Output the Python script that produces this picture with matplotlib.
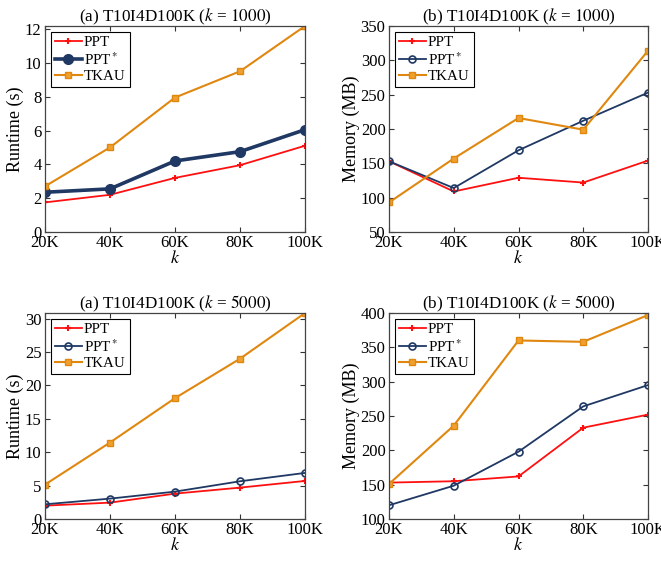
import matplotlib.pyplot as plt

plt.rcParams['font.family'] = ['Liberation Serif', 'DejaVu Serif']
plt.rcParams['mathtext.fontset'] = 'stix'

k_labels = ['20K', '40K', '60K', '80K', '100K']
x = [1, 2, 3, 4, 5]

# runtime, k = 1000
rt1_ppt = [1.75, 2.2, 3.2, 3.95, 5.1]
rt1_pptstar = [2.35, 2.55, 4.2, 4.75, 6.05]
rt1_tkau = [2.7, 5.0, 7.95, 9.5, 12.18]

# memory, k = 1000
mem1_ppt = [153, 109, 129, 122, 154]
mem1_pptstar = [153, 114, 169, 212, 253]
mem1_tkau = [93, 157, 216, 199, 314]

# runtime, k = 5000
rt5_ppt = [2.0, 2.45, 3.8, 4.7, 5.7]
rt5_pptstar = [2.2, 3.05, 4.1, 5.65, 6.9]
rt5_tkau = [5.15, 11.45, 18.1, 24.0, 30.85]

# memory, k = 5000
mem5_ppt = [153, 155, 162, 233, 252]
mem5_pptstar = [120, 148.5, 198, 264, 295]
mem5_tkau = [151, 236, 360, 358, 397]

RED = '#ff1010'
NAVY = '#1f3864'
ORANGE = '#e0870f'


def draw(ax, ppt, pptstar, tkau, title, ylabel, ylim, yticks, thick=False):
    ax.plot(x, ppt, color=RED, marker='+', markersize=5, mew=1.5, lw=1.3, label='PPT')
    if thick:
        ax.plot(x, pptstar, color=NAVY, marker='o', markersize=6.5, mfc=NAVY,
                mew=1.5, lw=2.6, label='PPT$^*$')
    else:
        ax.plot(x, pptstar, color=NAVY, marker='o', markersize=5, mfc='none',
                mew=1.2, lw=1.3, label='PPT$^*$')
    ax.plot(x, tkau, color=ORANGE, marker='s', markersize=4.5, mfc='#f0a030',
            mew=1.0, lw=1.5, label='TKAU')
    ax.set_xlim(1, 5)
    ax.set_ylim(*ylim)
    ax.set_xticks(x)
    ax.set_xticklabels(k_labels)
    ax.set_yticks(yticks)
    ax.set_xlabel('$k$', fontsize=13, labelpad=-1)
    ax.set_ylabel(ylabel, fontsize=13, labelpad=0.5)
    ax.set_title(title, fontsize=12.3, pad=3)
    ax.tick_params(direction='in', top=True, right=True, labelsize=12,
                   length=3.5, color='#333333', pad=2.5)
    for s in ax.spines.values():
        s.set_color('#444444')
        s.set_linewidth(0.9)
    leg = ax.legend(loc='upper left', fontsize=10.8, fancybox=False, framealpha=1,
                    edgecolor='black', borderaxespad=0.4, handlelength=1.8,
                    handletextpad=0.15, labelspacing=0.12, borderpad=0.25)
    leg.get_frame().set_linewidth(0.8)


fig = plt.figure(figsize=(6.61, 5.61), dpi=100)
W, H = 661.0, 561.0


def add_axes(l, t, r, b):
    return fig.add_axes([l / W, 1 - b / H, (r - l) / W, (b - t) / H])


ax1 = add_axes(45, 26, 305, 232)
ax2 = add_axes(389, 26, 648, 232)
ax3 = add_axes(45, 313, 305, 519)
ax4 = add_axes(389, 313, 648, 519)

draw(ax1, rt1_ppt, rt1_pptstar, rt1_tkau,
     '(a) T10I4D100K ($k$ = $\\mathit{1000}$)', 'Runtime (s)',
     (0, 12.18), [0, 2, 4, 6, 8, 10, 12], thick=True)
draw(ax2, mem1_ppt, mem1_pptstar, mem1_tkau,
     '(b) T10I4D100K ($k$ = $\\mathit{1000}$)', 'Memory (MB)',
     (50, 350), [50, 100, 150, 200, 250, 300, 350])
draw(ax3, rt5_ppt, rt5_pptstar, rt5_tkau,
     '(a) T10I4D100K ($k$ = $\\mathit{5000}$)', 'Runtime (s)',
     (0, 30.85), [0, 5, 10, 15, 20, 25, 30])
draw(ax4, mem5_ppt, mem5_pptstar, mem5_tkau,
     '(b) T10I4D100K ($k$ = $\\mathit{5000}$)', 'Memory (MB)',
     (100, 400), [100, 150, 200, 250, 300, 350, 400])

fig.savefig('out.png', dpi=100)
